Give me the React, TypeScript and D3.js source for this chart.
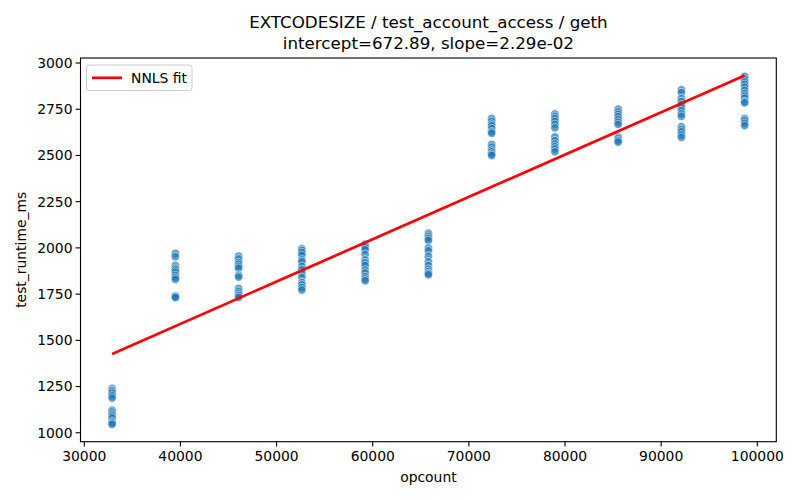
import React from "react";
import * as d3 from "d3";

const opcounts = [32896, 39475, 46054, 52633, 59212, 65791, 72370, 78949, 85528, 92107, 98686];
const runtimes: number[][] = [
  [1240, 1230, 1222, 1212, 1200, 1188, 1122, 1112, 1100, 1090, 1080, 1062, 1052, 1046],
  [1970, 1952, 1905, 1890, 1880, 1868, 1852, 1840, 1830, 1742, 1736, 1732],
  [1955, 1940, 1922, 1912, 1900, 1890, 1852, 1842, 1780, 1765, 1752, 1742, 1732],
  [1995, 1986, 1975, 1960, 1935, 1925, 1900, 1882, 1862, 1840, 1812, 1800, 1785, 1772],
  [2020, 2010, 2002, 1990, 1965, 1935, 1920, 1905, 1880, 1865, 1845, 1832, 1822],
  [2080, 2070, 2060, 2050, 2040, 2000, 1985, 1955, 1925, 1905, 1885, 1872, 1862, 1855],
  [2700, 2685, 2670, 2660, 2645, 2628, 2620, 2560, 2545, 2530, 2520, 2508, 2500],
  [2725, 2712, 2700, 2685, 2668, 2650, 2600, 2580, 2562, 2548, 2535, 2520],
  [2750, 2735, 2722, 2710, 2695, 2680, 2668, 2600, 2590, 2580, 2572],
  [2855, 2840, 2808, 2792, 2775, 2760, 2742, 2725, 2712, 2655, 2640, 2628, 2612, 2598],
  [2928, 2912, 2898, 2885, 2870, 2852, 2835, 2822, 2810, 2792, 2785, 2700, 2690, 2675, 2662],
];
const fitIntercept = 672.89;
const fitSlope = 0.0229;
const xTicks = [30000, 40000, 50000, 60000, 70000, 80000, 90000, 100000];
const yTicks = [1000, 1250, 1500, 1750, 2000, 2250, 2500, 2750, 3000];
const titleLines = ["EXTCODESIZE / test_account_access / geth", "intercept=672.89, slope=2.29e-02"];

export default function App() {
  const W = 800, H = 500;
  const left = 80.5, right = 776.3, top = 58, bottom = 441.7;
  const xMin = d3.min(opcounts)!, xMax = d3.max(opcounts)!;
  const allY = runtimes.flat();
  const yMin = d3.min(allY)!, yMax = d3.max(allY)!;
  const xPad = (xMax - xMin) * 0.05;
  const x = d3.scaleLinear().domain([xMin - xPad, xMax + xPad]).range([left, right]);
  const yLo = Math.min(yMin, fitIntercept + fitSlope * xMin);
  const yHi = Math.max(yMax, fitIntercept + fitSlope * xMax);
  const yPad = (yHi - yLo) * 0.05;
  const y = d3.scaleLinear().domain([yLo - yPad, yHi + yPad]).range([bottom, top]);
  const points = opcounts.flatMap((o, i) => runtimes[i].map((v) => ({ o, v })));
  const fitLine = d3.line<number>().x((o) => x(o)).y((o) => y(fitIntercept + fitSlope * o));
  const font = "DejaVu Sans, sans-serif";
  return (
    <svg width={W} height={H} style={{ position: "absolute", left: 0, top: 0, background: "#fff" }} fontFamily={font}>
      <rect x={0} y={0} width={W} height={H} fill="#fff" />
      <text x={(left + right) / 2} y={28} textAnchor="middle" fontSize={16.7} fill="#000">{titleLines[0]}</text>
      <text x={(left + right) / 2} y={49} textAnchor="middle" fontSize={16.7} fill="#000">{titleLines[1]}</text>
      <g>
        {points.map((p, i) => (
          <circle key={i} cx={x(p.o)} cy={y(p.v)} r={4.2} fill="#1f77b4" fillOpacity={0.7} stroke="#fff" strokeWidth={0.8} strokeOpacity={0.7} />
        ))}
      </g>
      <path d={fitLine([xMin, xMax]) || ""} stroke="#ff0000" strokeWidth={2.7} fill="none" />
      <rect x={left} y={top} width={right - left} height={bottom - top} fill="none" stroke="#000" strokeWidth={1.1} />
      {xTicks.map((t) => (
        <g key={t} transform={`translate(${x(t)},${bottom})`}>
          <line y1={0} y2={4.9} stroke="#000" strokeWidth={1.1} />
          <text y={19} textAnchor="middle" fontSize={13.9} fill="#000">{t}</text>
        </g>
      ))}
      {yTicks.map((t) => (
        <g key={t} transform={`translate(${left},${y(t)})`}>
          <line x1={0} x2={-4.9} stroke="#000" strokeWidth={1.1} />
          <text x={-8} dy="0.35em" textAnchor="end" fontSize={13.9} fill="#000">{t}</text>
        </g>
      ))}
      <text x={(left + right) / 2} y={482} textAnchor="middle" fontSize={13.9} fill="#000">opcount</text>
      <text transform={`translate(26,${(top + bottom) / 2}) rotate(-90)`} textAnchor="middle" fontSize={13.9} fill="#000">test_runtime_ms</text>
      <g>
        <rect x={86.5} y={65} width={105.5} height={25.5} rx={2.5} fill="#fff" fillOpacity={0.8} stroke="#cccccc" strokeWidth={1} />
        <line x1={92} x2={122} y1={77.8} y2={77.8} stroke="#ff0000" strokeWidth={2.7} />
        <text x={131} y={77.8} dy="0.35em" fontSize={13.9} fill="#000">NNLS fit</text>
      </g>
    </svg>
  );
}
